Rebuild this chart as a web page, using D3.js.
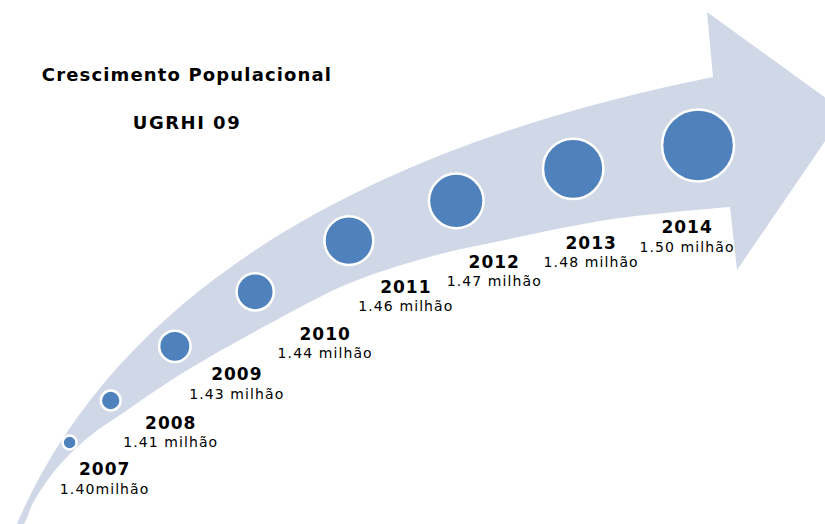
<!DOCTYPE html>
<html>
<head>
<meta charset="utf-8">
<script src="https://cdn.jsdelivr.net/npm/d3@7"></script>
<style>
  html, body { margin: 0; padding: 0; background: #ffffff; }
  svg { display: block; }
</style>
</head>
<body>
<svg id="chart" width="825" height="524"></svg>
<script>
// ---- dados ----
const anos = [2007, 2008, 2009, 2010, 2011, 2012, 2013, 2014];
const populacao = [1.40, 1.41, 1.43, 1.44, 1.46, 1.47, 1.48, 1.50]; // milhões de habitantes
const rotulosPopulacao = ["1.40milhão", "1.41 milhão", "1.43 milhão", "1.44 milhão",
                          "1.46 milhão", "1.47 milhão", "1.48 milhão", "1.50 milhão"];
const titulo = "Crescimento Populacional";
const subtitulo = "UGRHI 09";

// ---- forma da seta (contorno decorativo) ----
// borda superior: uma curva de Bézier cúbica da cauda até a base da ponta
const bezierSuperior = [[11,538],[126,250],[448,130],[713,77]];
const bordaInferior = [[11,538],[24,524],[33,503],[57,468],[90,436],[123,413],[167,383],
  [213,355],[267,325],[350,283],[433,256],[500,241],[613,219],[730,207]];
const cabeca = [[707,12],[845,112],[737,270]];

// deslocamento de cada rótulo (ano) em relação ao centro do círculo
const deslocRotulo = [[35,33],[60,28],[62,34],[70,48],[57,52],[38,67],[18,80],[-11,88]];

const COR_SETA = "#d0d8e8";
const COR_CIRCULO = "#4f81bd";
const FONTE = "'DejaVu Sans', Verdana, sans-serif";

const svg = d3.select("#chart");

const ps = d3.path();
ps.moveTo(...bezierSuperior[0]);
ps.bezierCurveTo(...bezierSuperior[1], ...bezierSuperior[2], ...bezierSuperior[3]);
const dSup = ps.toString();
const curva = d3.line().curve(d3.curveCatmullRom.alpha(0.5));
const dInf = curva(bordaInferior.slice().reverse());
const dSeta = dSup + cabeca.map(p => "L" + p[0] + "," + p[1]).join("") + dInf.replace(/^M/, "L") + "Z";

svg.append("path")
  .attr("d", dSeta)
  .attr("fill", COR_SETA);

// linha central da seta: média das bordas amostradas na mesma fração do comprimento
const aux = svg.append("g").attr("fill", "none").attr("stroke", "none");
const pSup = aux.append("path").attr("d", dSup).node();
const pInf = aux.append("path").attr("d", curva(bordaInferior)).node();
const Ls = pSup.getTotalLength(), Li = pInf.getTotalLength();
const N = 600;
const eixo = d3.range(N + 1).map(i => {
  const a = pSup.getPointAtLength(Ls * i / N), b = pInf.getPointAtLength(Li * i / N);
  return [(a.x + b.x) / 2, (a.y + b.y) / 2];
});
aux.remove();
const acum = [0];
for (let i = 1; i < eixo.length; i++) {
  acum.push(acum[i - 1] + Math.hypot(eixo[i][0] - eixo[i - 1][0], eixo[i][1] - eixo[i - 1][1]));
}
const Leixo = acum[acum.length - 1];
function pontoNoEixo(s) {
  const i = Math.max(1, Math.min(eixo.length - 1, d3.bisectLeft(acum, s)));
  const t = (s - acum[i - 1]) / (acum[i] - acum[i - 1] || 1);
  return [eixo[i - 1][0] + t * (eixo[i][0] - eixo[i - 1][0]),
          eixo[i - 1][1] + t * (eixo[i][1] - eixo[i - 1][1])];
}

// ---- escalas ----
const posicao = d3.scalePow().exponent(1.28)
  .domain([0, anos[anos.length - 1] - anos[0]])
  .range([Leixo * 0.133, Leixo * 0.972]);
const raio = d3.scaleLinear()
  .domain([d3.min(populacao), d3.max(populacao)])
  .range([7, 36]);

const pontos = anos.map((ano, i) => {
  const [x, y] = pontoNoEixo(posicao(ano - anos[0]));
  return { ano, valor: populacao[i], rotulo: rotulosPopulacao[i], x, y, r: raio(populacao[i]), d: deslocRotulo[i] };
});

// ---- círculos ----
svg.append("g").selectAll("circle")
  .data(pontos)
  .join("circle")
  .attr("cx", d => d.x)
  .attr("cy", d => d.y)
  .attr("r", d => d.r)
  .attr("fill", COR_CIRCULO)
  .attr("stroke", "#ffffff")
  .attr("stroke-width", 2.5);

// ---- rótulos ----
const rot = svg.append("g").attr("font-family", FONTE).attr("fill", "#000").attr("text-anchor", "middle");
rot.selectAll("text.ano")
  .data(pontos)
  .join("text")
  .attr("class", "ano")
  .attr("x", d => d.x + d.d[0])
  .attr("y", d => d.y + d.d[1])
  .attr("font-size", 17)
  .attr("font-weight", "bold")
  .attr("letter-spacing", 1)
  .text(d => d.ano);
rot.selectAll("text.valor")
  .data(pontos)
  .join("text")
  .attr("class", "valor")
  .attr("x", d => d.x + d.d[0])
  .attr("y", d => d.y + d.d[1] + 18.5)
  .attr("font-size", 14)
  .attr("letter-spacing", 1.1)
  .text(d => d.rotulo);

// ---- título ----
const tit = svg.append("g").attr("font-family", FONTE).attr("font-weight", "bold")
  .attr("text-anchor", "middle").attr("fill", "#000");
tit.append("text").attr("x", 187).attr("y", 81).attr("font-size", 18)
  .attr("letter-spacing", 1.15).text(titulo);
tit.append("text").attr("x", 187).attr("y", 129).attr("font-size", 18)
  .attr("letter-spacing", 1.5).text(subtitulo);
</script>
</body>
</html>
